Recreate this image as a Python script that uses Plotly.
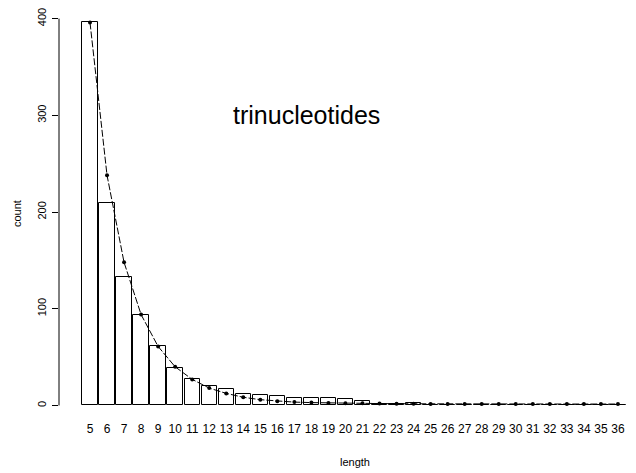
import plotly.graph_objects as go

lengths = list(range(5, 37))
bar_counts = [396, 209, 133, 94, 62, 39, 27, 20, 17, 12, 11, 10, 8, 8, 8, 7,
              5, 2, 2, 3, 1, 1, 1, 1, 1, 1, 1, 1, 1, 1, 1, 1]
fit_counts = [396, 238, 148, 94, 61, 40, 27, 18, 12.5, 8.5, 6, 4.5, 3.5, 3, 2.6, 2.4,
              2.2, 2, 1.8, 1.7, 1.6, 1.5, 1.5, 1.5, 1.5, 1.5, 1.5, 1.5, 1.5, 1.5, 1.5, 1.5]
tick_labels = [str(v) for v in lengths]
y_ticks = [0, 100, 200, 300, 400]

idx = list(range(len(lengths)))
FONT = "Liberation Sans, Arial, sans-serif"

fig = go.Figure()
fig.add_trace(go.Bar(
    x=idx, y=bar_counts, width=0.9,
    marker=dict(color="white", line=dict(color="black", width=1)),
    showlegend=False, hoverinfo="skip",
))
fig.add_trace(go.Scatter(
    x=idx, y=fit_counts, mode="lines+markers",
    line=dict(color="black", width=1, dash="7px,2px"),
    marker=dict(color="black", size=4),
    showlegend=False, hoverinfo="skip",
))

fig.update_layout(
    width=636, height=473,
    margin=dict(l=59, r=0, t=7, b=53),
    paper_bgcolor="white", plot_bgcolor="white",
    font=dict(family=FONT, size=11, color="black"),
    bargap=0,
    xaxis=dict(
        range=[-1.82, 32.06], tickmode="array", tickvals=idx, ticktext=tick_labels,
        showline=False, showgrid=False, zeroline=False, ticks="",
        tickfont=dict(size=12, color="black"), tickangle=0,
    ),
    yaxis=dict(
        range=[-15, 412], tickmode="array", tickvals=y_ticks,
        ticktext=[str(v) for v in y_ticks],
        showline=False, showgrid=False, zeroline=False,
        ticks="outside", ticklen=6, tickcolor="black", tickwidth=1,
        tickangle=-90, tickfont=dict(size=11, color="black"),
        ticklabelstandoff=2,
    ),
    shapes=[dict(type="line", xref="paper", yref="y", x0=0, x1=0, y0=0, y1=400,
                 line=dict(color="black", width=1))],
    annotations=[
        dict(text="trinucleotides", xref="x", yref="y", x=12.74, y=300,
             showarrow=False, font=dict(size=25, color="black", family=FONT),
             xanchor="center", yanchor="middle"),
        dict(text="length", xref="paper", yref="paper", x=(355 - 59) / 577, y=-42 / 413,
             showarrow=False, font=dict(size=11, color="black", family=FONT),
             xanchor="center", yanchor="middle"),
        dict(text="count", xref="paper", yref="paper", x=(17 - 59) / 577, y=0.4988,
             textangle=-90, showarrow=False, font=dict(size=11, color="black", family=FONT),
             xanchor="center", yanchor="middle"),
    ],
)

fig.write_html("out.html")
